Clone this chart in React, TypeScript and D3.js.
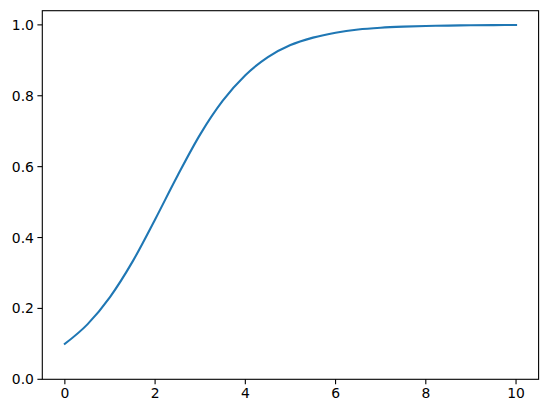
import * as d3 from "d3";

const xs = [0, 0.5, 1, 1.5, 2, 2.5, 3, 3.5, 4, 4.5, 5, 5.5, 6, 6.5, 7, 7.5, 8, 8.5, 9, 9.5, 10];
const ys = [
  0.1, 0.155, 0.232, 0.332, 0.451, 0.575, 0.691, 0.786, 0.858, 0.909, 0.943,
  0.964, 0.978, 0.987, 0.992, 0.995, 0.997, 0.998, 0.999, 0.9993, 0.9996,
];
const xTicks = [0, 2, 4, 6, 8, 10];
const yTicks = [0, 0.2, 0.4, 0.6, 0.8, 1.0];

const W = 547;
const H = 413;
const m = { left: 42.3, right: 538.6, top: 10.7, bottom: 379.3 };
const font = "'DejaVu Sans', sans-serif";

export default function App() {
  const x = d3.scaleLinear().domain([-0.5, 10.5]).range([m.left, m.right]);
  const y = d3.scaleLinear().domain([0, 1.04]).range([m.bottom, m.top]);
  const line = d3
    .line<number>()
    .x((_, i) => x(xs[i]))
    .y((d) => y(d))
    .curve(d3.curveMonotoneX);

  return (
    <>
      <style>{`body{margin:0}`}</style>
      <svg width={W} height={H} style={{ display: "block", background: "#fff" }}>
        <path d={line(ys) ?? ""} fill="none" stroke="#1f77b4" strokeWidth={2.1} strokeLinecap="square" />

        {/* spines */}
        <rect
          x={m.left}
          y={m.top}
          width={m.right - m.left}
          height={m.bottom - m.top}
          fill="none"
          stroke="#000"
          strokeWidth={1.1}
        />

        {/* x axis */}
        {xTicks.map((t) => (
          <g key={t} transform={`translate(${x(t)},${m.bottom})`}>
            <line y2={4.9} stroke="#000" strokeWidth={1.1} />
            <text y={19} textAnchor="middle" fontFamily={font} fontSize={13.9} fill="#000">
              {t}
            </text>
          </g>
        ))}

        {/* y axis */}
        {yTicks.map((t) => (
          <g key={t} transform={`translate(${m.left},${y(t)})`}>
            <line x2={-4.9} stroke="#000" strokeWidth={1.1} />
            <text x={-8.4} dy="0.36em" textAnchor="end" fontFamily={font} fontSize={13.9} fill="#000">
              {t.toFixed(1)}
            </text>
          </g>
        ))}
      </svg>
    </>
  );
}
